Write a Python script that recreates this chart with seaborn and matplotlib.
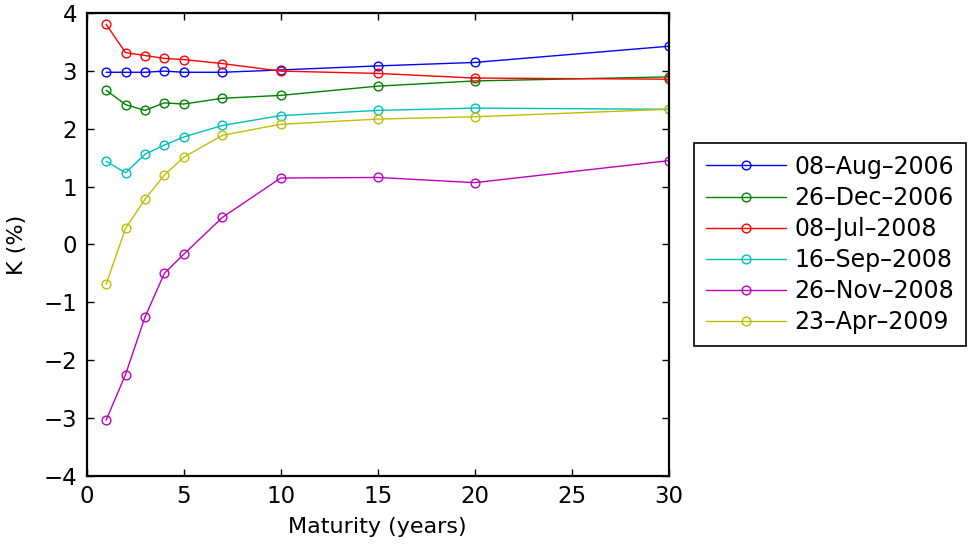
import matplotlib
matplotlib.use("Agg")
import matplotlib.pyplot as plt
import seaborn as sns
import pandas as pd

maturities = [1, 2, 3, 4, 5, 7, 10, 15, 20, 30]
dates = ["08\u2013Aug\u20132006", "26\u2013Dec\u20132006", "08\u2013Jul\u20132008",
         "16\u2013Sep\u20132008", "26\u2013Nov\u20132008", "23\u2013Apr\u20132009"]
aug2006 = [2.98, 2.98, 2.98, 3.00, 2.98, 2.98, 3.02, 3.09, 3.15, 3.43]
dec2006 = [2.67, 2.42, 2.32, 2.45, 2.43, 2.53, 2.58, 2.74, 2.83, 2.90]
jul2008 = [3.81, 3.32, 3.27, 3.22, 3.20, 3.13, 3.00, 2.96, 2.88, 2.86]
sep2008 = [1.44, 1.24, 1.56, 1.72, 1.86, 2.06, 2.23, 2.32, 2.36, 2.34]
nov2008 = [-3.04, -2.25, -1.26, -0.50, -0.17, 0.47, 1.15, 1.16, 1.07, 1.45]
apr2009 = [-0.69, 0.28, 0.78, 1.20, 1.51, 1.89, 2.08, 2.17, 2.21, 2.34]
series = [aug2006, dec2006, jul2008, sep2008, nov2008, apr2009]
colors = [(0, 0, 1), (0, 0.5, 0), (1, 0, 0), (0, 0.75, 0.75), (0.75, 0, 0.75), (0.75, 0.75, 0)]

sns.set_style("ticks")
plt.rcParams["font.family"] = ["DejaVu Sans"]
plt.rcParams["text.color"] = "black"
plt.rcParams["axes.labelcolor"] = "black"
plt.rcParams["xtick.direction"] = "in"
plt.rcParams["ytick.direction"] = "in"
plt.rcParams["xtick.top"] = True
plt.rcParams["ytick.right"] = True

fig = plt.figure(figsize=(9.69, 5.48), dpi=100)
ax = fig.add_axes([0.0895, 0.132, 0.6005, 0.8437])

for name, vals, c in zip(dates, series, colors):
    df = pd.DataFrame({"Maturity": maturities, "K": vals})
    sns.lineplot(data=df, x="Maturity", y="K", color=c, marker="o", mfc="none",
                 mec=c, mew=1.0, ms=6.3, lw=1.0, label=name, ax=ax, legend=False)

ax.set_xlim(0, 30)
ax.set_ylim(-4, 4)
ax.set_xticks([0, 5, 10, 15, 20, 25, 30])
ax.set_yticks(range(-4, 5))
ax.tick_params(labelsize=16.5, length=5, width=1.0, colors="black", pad=7)
for s in ax.spines.values():
    s.set_linewidth(1.6)
    s.set_color("black")
ax.set_xlabel("Maturity (years)", fontsize=16, labelpad=6, color="black")
ax.set_ylabel("K (%)", fontsize=16, labelpad=12, color="black")

handles = ax.get_lines()[:len(dates)]
leg = fig.legend(handles, dates, loc="center left", bbox_to_anchor=(0.716, 0.554),
                 bbox_transform=fig.transFigure, fontsize=17, frameon=True,
                 fancybox=False, edgecolor="black", framealpha=1, borderaxespad=0,
                 handlelength=3.4, handletextpad=0.35, labelspacing=0.3, borderpad=0.5,
                 labelcolor="black")
leg.get_frame().set_linewidth(1.2)

fig.savefig("out.png", dpi=100)
